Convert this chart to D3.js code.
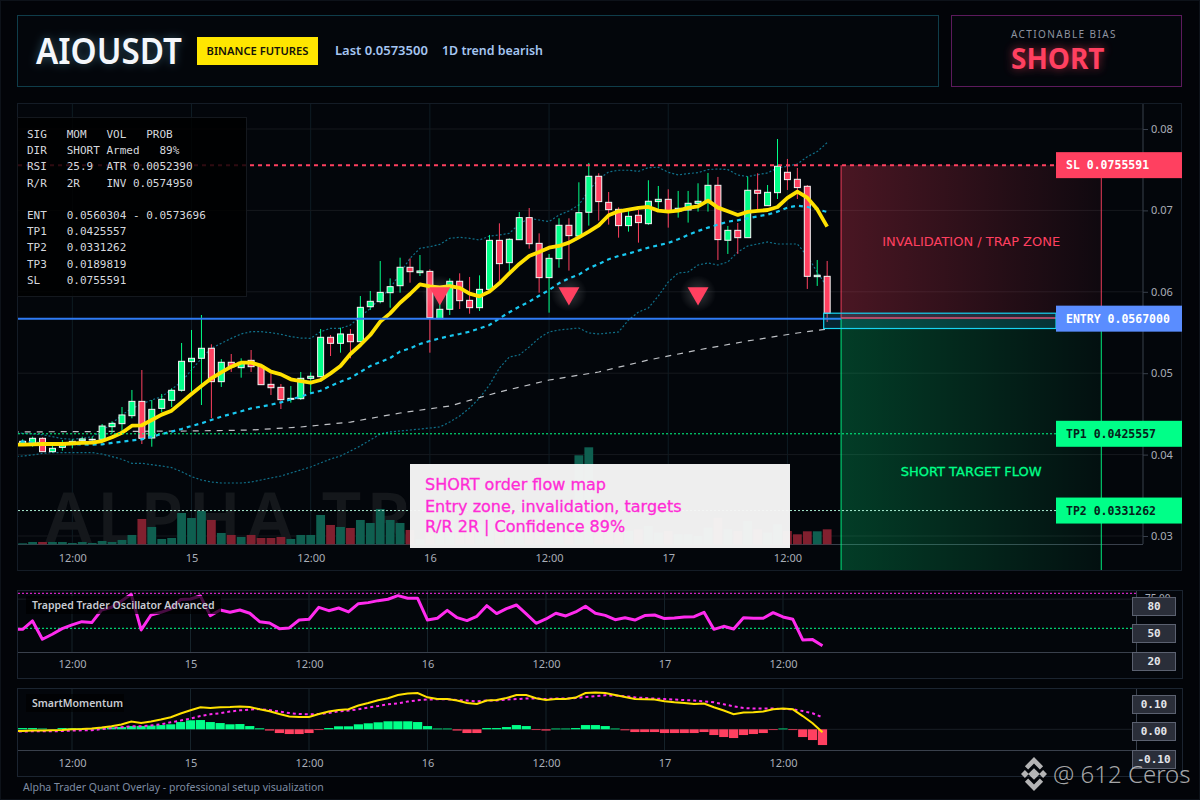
<!DOCTYPE html>
<html>
<head>
<meta charset="utf-8">
<script src="https://d3js.org/d3.v7.min.js"></script>
<style>
  html, body { margin: 0; padding: 0; background: #020408; }
  svg { display: block; }
  text { font-family: "Noto Sans", sans-serif; }
  .mono { font-family: "DejaVu Sans Mono", monospace; white-space: pre; }
  .dv { font-family: "DejaVu Sans", sans-serif; }
  .tick text { fill: #a9aeb8; font-size: 11px; font-family: "Noto Sans", sans-serif; }
</style>
</head>
<body>
<div id="chart"></div>
<script>
// candles, one per hour
var opens = [0.0413,0.04138,0.042,0.04036,0.04089,0.04122,0.04171,0.04179,0.04188,0.04343,0.0438,0.04478,0.04654,0.04204,0.04568,0.04667,0.0479,0.05142,0.05183,0.05306,0.04896,0.05134,0.05068,0.05158,0.05084,0.04863,0.04826,0.04679,0.04687,0.04937,0.04957,0.05441,0.05367,0.05477,0.05387,0.05817,0.05879,0.05989,0.06075,0.06301,0.06235,0.06251,0.0567,0.05785,0.06129,0.05895,0.05805,0.0603,0.06632,0.06358,0.0664,0.06911,0.06595,0.06174,0.06407,0.06817,0.06685,0.06977,0.07419,0.07099,0.07013,0.06813,0.0694,0.06837,0.07108,0.07136,0.06993,0.07005,0.07087,0.07108,0.07308,0.06633,0.06755,0.06665,0.07247,0.07058,0.07218,0.07468,0.07382,0.07296,0.06186,0.0619];
var closes = [0.04163,0.042,0.04036,0.04077,0.0413,0.04163,0.04192,0.04188,0.04351,0.04384,0.04487,0.04654,0.042,0.04556,0.04679,0.0479,0.05146,0.05183,0.05306,0.04896,0.05134,0.0508,0.05134,0.0508,0.04859,0.04822,0.04675,0.04691,0.04937,0.04962,0.05441,0.05367,0.05482,0.05387,0.05809,0.05883,0.05993,0.06063,0.06301,0.06247,0.06256,0.05682,0.05785,0.06129,0.05891,0.05805,0.0603,0.06632,0.06346,0.06645,0.06911,0.06591,0.06174,0.06411,0.06817,0.0669,0.06972,0.07419,0.07108,0.07009,0.06813,0.06927,0.0685,0.07112,0.07136,0.06993,0.07026,0.07087,0.07112,0.07308,0.06641,0.06755,0.06665,0.07247,0.0721,0.07222,0.07542,0.07378,0.0728,0.0619,0.06203,0.05735];
var highs = [0.04188,0.0422,0.04212,0.04118,0.04179,0.04188,0.0422,0.0422,0.04376,0.04409,0.04585,0.04794,0.05039,0.04671,0.04745,0.04814,0.05371,0.05531,0.05715,0.05355,0.05174,0.05236,0.05183,0.05285,0.05089,0.04998,0.04867,0.04843,0.05015,0.05011,0.05543,0.05469,0.05559,0.05543,0.05948,0.0601,0.06378,0.06165,0.06419,0.06411,0.06452,0.06276,0.0592,0.06165,0.06227,0.06182,0.06202,0.06698,0.06841,0.06657,0.0698,0.07029,0.06718,0.06464,0.06903,0.06903,0.07345,0.07583,0.07456,0.07226,0.07038,0.07026,0.07005,0.0737,0.073,0.07259,0.07239,0.07239,0.07333,0.0746,0.07411,0.06809,0.06845,0.07415,0.07456,0.07312,0.07877,0.07632,0.07521,0.07312,0.06391,0.06379];
var lows = [0.04106,0.04097,0.04032,0.04024,0.04048,0.04077,0.04147,0.04138,0.04171,0.04261,0.04294,0.04446,0.0413,0.04097,0.04523,0.04585,0.04773,0.04773,0.04609,0.04446,0.04831,0.05015,0.04945,0.05015,0.04855,0.04732,0.0456,0.04638,0.04671,0.04753,0.04949,0.05211,0.05252,0.05183,0.05387,0.05776,0.05858,0.05805,0.05989,0.06112,0.06194,0.05252,0.0567,0.05715,0.05789,0.05731,0.05764,0.06022,0.06124,0.06247,0.06636,0.0653,0.05989,0.05744,0.06296,0.0626,0.06685,0.06813,0.06874,0.06825,0.06665,0.06739,0.06604,0.06821,0.06985,0.06788,0.06911,0.0685,0.06985,0.06985,0.06391,0.06465,0.06465,0.06665,0.07013,0.07054,0.0714,0.07251,0.0714,0.06035,0.06072,0.05629];
var volumes = [3,7,7,7,7,4,7,4,10,7,13,28,76,52,16,19,94,79,100,73,34,28,22,28,19,19,22,16,28,28,88,58,52,49,73,64,106,73,64,43,15,110,45,70,50,40,60,110,80,70,60,70,70,65,70,60,267,291,90,50,50,40,45,55,35,40,30,30,25,50,80,45,40,70,45,35,60,40,30,39,39,45];

// overlays, these start one bar before the first candle (bar -1)
var maFast = [0.04122,0.04122,0.04126,0.0413,0.0413,0.0413,0.04138,0.04143,0.04147,0.04167,0.04212,0.04269,0.04355,0.0436,0.04425,0.04491,0.0454,0.04642,0.04745,0.04843,0.04937,0.05011,0.0508,0.05129,0.05129,0.05093,0.05019,0.04986,0.04925,0.04904,0.04884,0.04916,0.04998,0.05088,0.05236,0.05346,0.05469,0.05633,0.05735,0.05866,0.05973,0.06092,0.06067,0.06055,0.06071,0.06047,0.05977,0.05944,0.06002,0.06104,0.06227,0.06342,0.0644,0.06489,0.06542,0.06563,0.06604,0.06669,0.06739,0.06817,0.0694,0.06989,0.07009,0.0703,0.07042,0.06997,0.06985,0.06997,0.0703,0.0705,0.0712,0.07034,0.06989,0.06944,0.06981,0.06993,0.07005,0.07042,0.07153,0.0723,0.07157,0.07013,0.068];
var maSlow = [0.04163,0.04159,0.04151,0.04138,0.04134,0.04134,0.0413,0.04126,0.04122,0.04126,0.04143,0.04159,0.04175,0.04188,0.0422,0.04253,0.04282,0.04315,0.04351,0.04384,0.04425,0.04466,0.04499,0.04532,0.04568,0.04589,0.04613,0.04642,0.04679,0.04712,0.04753,0.04785,0.04843,0.04896,0.04941,0.05015,0.05088,0.05138,0.05187,0.05265,0.05305,0.05359,0.05396,0.05428,0.05457,0.05482,0.0551,0.05551,0.05592,0.05674,0.05748,0.05817,0.05879,0.05952,0.06022,0.06104,0.06165,0.06211,0.06289,0.06342,0.06399,0.0644,0.06469,0.06506,0.06542,0.06571,0.066,0.06645,0.06698,0.06747,0.06788,0.06825,0.06862,0.06878,0.06903,0.06927,0.06948,0.06985,0.07034,0.07058,0.07042,0.07013,0.06981];
var bandUpper = [0.04269,0.04261,0.04253,0.04245,0.0422,0.04196,0.04188,0.042,0.0422,0.04294,0.04384,0.04487,0.04568,0.04622,0.04671,0.04712,0.04802,0.04896,0.05039,0.05183,0.05306,0.05367,0.05428,0.05482,0.0551,0.0551,0.05498,0.05478,0.05449,0.05432,0.05428,0.0551,0.05551,0.05551,0.05592,0.05694,0.05797,0.0592,0.06043,0.06227,0.06411,0.06534,0.06554,0.06583,0.06657,0.06669,0.06657,0.06636,0.06685,0.06698,0.06718,0.06833,0.06903,0.06882,0.06862,0.06943,0.06993,0.07067,0.07243,0.07386,0.07472,0.07493,0.07493,0.0748,0.07525,0.07529,0.07468,0.07435,0.07452,0.07464,0.07501,0.07509,0.07501,0.07435,0.07415,0.07439,0.0746,0.07521,0.07542,0.0757,0.0766,0.07722,0.07832];
var bandLower = [0.03975,0.03983,0.03995,0.04016,0.04024,0.04024,0.04024,0.04024,0.04024,0.04007,0.03975,0.03942,0.03893,0.03893,0.03876,0.0386,0.0384,0.0379,0.03729,0.03688,0.03663,0.03651,0.03651,0.03651,0.03663,0.03688,0.03713,0.03737,0.03774,0.03811,0.03848,0.03897,0.03946,0.03983,0.04044,0.04106,0.04179,0.04253,0.04278,0.0429,0.04302,0.04314,0.04327,0.04339,0.044,0.04474,0.04572,0.04695,0.04855,0.05064,0.05199,0.05224,0.05322,0.05432,0.05506,0.05531,0.05543,0.05555,0.05494,0.05482,0.05494,0.05506,0.05654,0.05752,0.05801,0.05948,0.0612,0.06231,0.06243,0.06329,0.06354,0.06329,0.06366,0.06489,0.06563,0.06587,0.06612,0.06587,0.06587,0.06587,0.0644,0.06243,0.06059];
var vwapBars = [-1,17,23,28,33,38,43,48,53,58,63,68,73,78,81];
var vwapValues = [0.04278,0.0429,0.04302,0.04339,0.044,0.04511,0.04597,0.04769,0.04916,0.05015,0.05162,0.05285,0.05396,0.05494,0.05543];

// sub panes, also from bar -1
var oscillator = [49.1,49.1,56.3,40.6,44.9,49.7,52.9,55.7,54.9,65.7,68,73.4,79.1,48.6,61.4,63.7,66.6,74.6,75.1,77.7,60.9,65.7,63.7,65.7,62.9,55.7,54.6,49.7,50.3,57.1,57.7,68,65.1,67.4,64,71.1,72,73.7,74.9,78,75.7,75.7,57.1,58.6,65.4,59.1,56.6,60.3,69.4,62.6,66.9,70,62.3,54.3,58,62.9,60.6,64,68.9,62.9,61.1,57.4,59.1,57.1,60.9,61.4,58.3,58.9,59.7,60,63.7,49.1,51.7,49.4,59.1,58.6,58.6,63.4,59.7,57.7,40,40.3,35.1];
var momentum = [-0.007,-0.007,-0.005,-0.005,-0.004,-0.003,0,0.001,0.003,0.007,0.012,0.019,0.031,0.025,0.031,0.039,0.048,0.063,0.076,0.088,0.085,0.088,0.089,0.091,0.089,0.08,0.072,0.061,0.051,0.049,0.049,0.061,0.071,0.077,0.08,0.095,0.105,0.116,0.124,0.137,0.143,0.145,0.128,0.121,0.121,0.115,0.105,0.101,0.115,0.117,0.125,0.137,0.137,0.124,0.117,0.121,0.121,0.127,0.145,0.147,0.145,0.137,0.129,0.121,0.12,0.119,0.112,0.108,0.105,0.101,0.103,0.088,0.075,0.06,0.067,0.068,0.071,0.08,0.083,0.08,0.053,0.024,-0.012];
var momentumSignal = [-0.009,-0.009,-0.008,-0.008,-0.008,-0.007,-0.005,-0.004,-0.004,0.001,0.005,0.008,0.012,0.012,0.015,0.02,0.028,0.035,0.043,0.053,0.06,0.064,0.071,0.076,0.079,0.081,0.077,0.071,0.065,0.061,0.06,0.061,0.065,0.072,0.075,0.08,0.087,0.093,0.1,0.104,0.111,0.116,0.119,0.12,0.12,0.117,0.115,0.112,0.115,0.115,0.119,0.121,0.123,0.123,0.121,0.123,0.123,0.125,0.129,0.133,0.136,0.135,0.132,0.128,0.125,0.123,0.121,0.119,0.117,0.115,0.112,0.108,0.1,0.092,0.085,0.083,0.083,0.083,0.081,0.08,0.073,0.064,0.048];
var histogram = [0.005,0.005,0.005,0.003,0.001,0.005,0.004,0.004,0.003,0.004,0.008,0.009,0.013,0.013,0.015,0.017,0.02,0.029,0.036,0.037,0.029,0.025,0.02,0.021,0.013,0.004,-0.005,-0.015,-0.019,-0.019,-0.015,-0.003,0.005,0.012,0.012,0.02,0.024,0.028,0.032,0.032,0.032,0.029,0.013,0.003,0.003,-0.005,-0.015,-0.015,0.005,0.005,0.009,0.017,0.013,-0.003,-0.005,0.003,0.003,0.005,0.017,0.017,0.013,0.003,-0.004,-0.011,-0.011,-0.011,-0.015,-0.015,-0.015,-0.015,-0.011,-0.023,-0.031,-0.035,-0.023,-0.019,-0.015,-0.003,0.003,-0.003,-0.031,-0.043,-0.063];

// ticks and labels
var tickBars = [5,17,29,41,53,65,77];
var tickLabels = ["12:00","15","12:00","16","12:00","17","12:00"];
var priceTicks = [0.03,0.04,0.05,0.06,0.07,0.08];
var oscBadges = ["80","50","20"];
var momBadges = ["0.10","0.00","-0.10"];
var infoLines = [
  "SIG   MOM   VOL   PROB",
  "DIR   SHORT Armed   89%",
  "RSI   25.9  ATR 0.0052390",
  "R/R   2R    INV 0.0574950",
  "",
  "ENT   0.0560304 - 0.0573696",
  "TP1   0.0425557",
  "TP2   0.0331262",
  "TP3   0.0189819",
  "SL    0.0755591"
];
var noteLines = ["SHORT order flow map","Entry zone, invalidation, targets","R/R 2R | Confidence 89%"];

// levels
var slPrice = 0.0755591, entryPrice = 0.0567, entryHigh = 0.0573696, entryLow = 0.05549;
var tp1Price = 0.0425557, tp2Price = 0.0331262;
var signalBars = [42,55,68];
var signalPrices = [0.0598,0.0598,0.0598];
var zoneFrom = 82.4, zoneTo = 108.6, entryBoxFrom = 80.65;

var green = "#00ff88", red = "#ff4060", yellow = "#ffe100", magenta = "#ff2bee";
var bars = d3.range(opens.length);

var svg = d3.select("#chart").append("svg").attr("width", 1200).attr("height", 800);
var defs = svg.append("defs");

svg.append("rect").attr("x", 0.5).attr("y", 0.5).attr("width", 1199).attr("height", 799)
  .attr("fill", "#020408").attr("stroke", "#0d1219");

function hGradient(id, color, a0, a1) {
  var g = defs.append("linearGradient").attr("id", id);
  g.append("stop").attr("offset", 0).attr("stop-color", color).attr("stop-opacity", a0);
  g.append("stop").attr("offset", 1).attr("stop-color", color).attr("stop-opacity", a1);
}
hGradient("redZone", red, 0.28, 0.05);
hGradient("greenZone", green, 0.22, 0.04);
var halo = defs.append("radialGradient").attr("id", "halo");
halo.append("stop").attr("offset", 0).attr("stop-color", "#fff").attr("stop-opacity", 0.2);
halo.append("stop").attr("offset", 1).attr("stop-color", "#fff").attr("stop-opacity", 0);
var blur = defs.append("filter").attr("id", "glow").attr("x", "-30%").attr("y", "-60%").attr("width", "160%").attr("height", "220%");
blur.append("feGaussianBlur").attr("stdDeviation", 5);

// header
function box(x, y, w, h, stroke) {
  return svg.append("rect").attr("x", x).attr("y", y).attr("width", w).attr("height", h)
    .attr("fill", "#03060b").attr("stroke", stroke);
}
box(17.5, 15.5, 921, 71, "#0f3d4a");
box(951.5, 15.5, 230, 71, "#5c1a5c");

svg.append("text").attr("x", 36).attr("y", 63.5).attr("font-size", 36).attr("font-weight", 700)
  .attr("fill", "#6fc3e0").attr("filter", "url(#glow)").attr("opacity", 0.35)
  .attr("textLength", 146).attr("lengthAdjust", "spacingAndGlyphs").text("AIOUSDT");
svg.append("text").attr("x", 36).attr("y", 63.5).attr("font-size", 36).attr("font-weight", 600)
  .attr("fill", "#f4f7fb").attr("textLength", 146).attr("lengthAdjust", "spacingAndGlyphs").text("AIOUSDT");
svg.append("rect").attr("x", 197).attr("y", 37).attr("width", 121).attr("height", 28).attr("fill", "#ffe600");
svg.append("text").attr("x", 257.5).attr("y", 55).attr("text-anchor", "middle").attr("font-size", 11.2).attr("font-weight", 600)
  .attr("fill", "#14120a").text("BINANCE FUTURES");
svg.append("text").attr("x", 335).attr("y", 55).attr("font-size", 13).attr("font-weight", 600)
  .attr("fill", "#a5c5f2").text("Last 0.0573500");
svg.append("text").attr("x", 442).attr("y", 55).attr("font-size", 13).attr("font-weight", 600)
  .attr("fill", "#a5c5f2").attr("textLength", 101).attr("lengthAdjust", "spacingAndGlyphs").text("1D trend bearish");
svg.append("text").attr("x", 1011).attr("y", 38).attr("font-size", 10).attr("letter-spacing", 1.4)
  .attr("fill", "#8f94a0").text("ACTIONABLE BIAS");
svg.append("text").attr("x", 1011).attr("y", 69).attr("font-size", 28).attr("font-weight", 700)
  .attr("fill", red).attr("filter", "url(#glow)").attr("opacity", 0.6).text("SHORT");
svg.append("text").attr("x", 1011).attr("y", 69).attr("font-size", 28).attr("font-weight", 700)
  .attr("fill", red).text("SHORT");

// panel frames
box(17.5, 103.5, 1164, 467, "#141c26");
box(17.5, 590.5, 1165, 88, "#1b2430");
box(17.5, 688.5, 1165, 88, "#1b2430");

// scales, the same bar domain over each pane's own width
var barDomain = [-0.47, 112.8];
var x = d3.scaleLinear().domain(barDomain).range([18, 1143]);
var xSub = d3.scaleLinear().domain(barDomain).range([18, 1136.5]);
var y = d3.scaleLinear().domain([0.02898, 0.08307]).range([544.3, 104]);
var yVol = d3.scaleLinear().domain([0, 300]).range([544.3, 444.3]);
var yOsc = d3.scaleLinear().domain([50, 80]).range([628.3, 593.3]);
var yMom = d3.scaleLinear().domain([0, 0.1]).range([729.3, 704.3]);

function clip(id, x0, y0, w, h) {
  defs.append("clipPath").attr("id", id).append("rect").attr("x", x0).attr("y", y0).attr("width", w).attr("height", h);
}
clip("mainClip", 18, 104, 1125, 466);
clip("oscClip", 18, 591, 1118.5, 61);
clip("momClip", 18, 689, 1118.5, 62);
clip("oscAxisClip", 1137, 591, 45, 87);

// main pane grid and axes
var main = svg.append("g");
main.selectAll(".vgrid").data(tickBars).join("line")
  .attr("x1", x).attr("x2", x).attr("y1", 104).attr("y2", 544)
  .attr("stroke", "#0e1c24");
main.selectAll(".hgrid").data(priceTicks).join("line")
  .attr("x1", 18).attr("x2", 1143).attr("y1", y).attr("y2", y)
  .attr("stroke", "#16191e");

// watermark sits right behind the marks
main.append("text").attr("x", 45).attr("y", 543).attr("font-size", 70).attr("font-weight", 600)
  .attr("letter-spacing", 5).attr("fill", "#14171b").text("ALPHA TRADER");

var axisY = d3.axisRight(y).tickValues(priceTicks).tickSize(5).tickPadding(3).tickFormat(d3.format(".2f"));
var gy = main.append("g").attr("transform", "translate(1143,0)").call(axisY);
gy.select(".domain").remove();
gy.selectAll(".tick line").attr("stroke", "#39404c");
main.append("line").attr("x1", 1143).attr("x2", 1143).attr("y1", 104).attr("y2", 544).attr("stroke", "#39404c");

function xAxis(g, scale, yPos, pad) {
  var ax = d3.axisBottom(scale).tickValues(tickBars).tickSize(0).tickPadding(pad)
    .tickFormat(function(d, i) { return tickLabels[i]; });
  var a = g.append("g").attr("transform", "translate(0," + yPos + ")").call(ax);
  a.select(".domain").remove();
  g.append("line").attr("x1", 18).attr("x2", scale.range()[1]).attr("y1", yPos + 0.5).attr("y2", yPos + 0.5).attr("stroke", "#39404c");
}
xAxis(main, x, 544, 10);

var plot = main.append("g").attr("clip-path", "url(#mainClip)");

// volume
plot.selectAll(".vol").data(bars).join("rect")
  .attr("x", function(i) { return x(i) - 4.4; })
  .attr("width", 8.8)
  .attr("y", function(i) { return yVol(volumes[i]); })
  .attr("height", function(i) { return yVol(0) - yVol(volumes[i]); })
  .attr("fill", function(i) { return closes[i] >= opens[i] ? "#0f5f50" : "#81202f"; });

// zones
plot.append("rect").attr("x", x(zoneFrom)).attr("width", x(zoneTo) - x(zoneFrom))
  .attr("y", y(slPrice)).attr("height", y(entryPrice) - y(slPrice)).attr("fill", "url(#redZone)");
plot.append("rect").attr("x", x(zoneFrom)).attr("width", x(zoneTo) - x(zoneFrom))
  .attr("y", y(entryPrice)).attr("height", 570 - y(entryPrice)).attr("fill", "url(#greenZone)");
[zoneFrom, zoneTo].forEach(function(b) {
  plot.append("line").attr("x1", x(b)).attr("x2", x(b)).attr("y1", y(slPrice)).attr("y2", y(entryPrice)).attr("stroke", red).attr("opacity", 0.9);
  plot.append("line").attr("x1", x(b)).attr("x2", x(b)).attr("y1", y(entryPrice)).attr("y2", 570).attr("stroke", green).attr("opacity", 0.9);
});

// price lines
function priceLine(accessor, xs) {
  return d3.line().x(function(d, i) { return x(xs ? xs[i] : i - 1); }).y(function(d) { return y(d); })(accessor);
}
plot.append("path").attr("d", priceLine(bandUpper)).attr("fill", "none").attr("stroke", "#10708a").attr("stroke-width", 1.2).attr("stroke-dasharray", "2 2");
plot.append("path").attr("d", priceLine(bandLower)).attr("fill", "none").attr("stroke", "#10708a").attr("stroke-width", 1.2).attr("stroke-dasharray", "2 2");
plot.append("path").attr("d", priceLine(vwapValues, vwapBars)).attr("fill", "none").attr("stroke", "#e0e3e8").attr("stroke-opacity", 0.85).attr("stroke-width", 1.2).attr("stroke-dasharray", "6 6");

// candles
plot.selectAll(".wick").data(bars).join("line")
  .attr("x1", x).attr("x2", x)
  .attr("y1", function(i) { return y(highs[i]); })
  .attr("y2", function(i) { return y(lows[i]); })
  .attr("stroke", function(i) { return closes[i] >= opens[i] ? green : red; });
plot.selectAll(".body").data(bars).join("rect")
  .attr("x", function(i) { return x(i) - 3; })
  .attr("width", 6)
  .attr("y", function(i) { return y(Math.max(opens[i], closes[i])); })
  .attr("height", function(i) { return Math.abs(y(opens[i]) - y(closes[i])); })
  .attr("fill", function(i) { return closes[i] >= opens[i] ? green : red; })
  .attr("stroke", "#f6f6f6");

plot.append("path").attr("d", priceLine(maSlow)).attr("fill", "none").attr("stroke", "#19c8f0").attr("stroke-width", 2.2).attr("stroke-dasharray", "4 4");
plot.append("path").attr("d", priceLine(maFast)).attr("fill", "none").attr("stroke", yellow).attr("stroke-width", 3.8).attr("stroke-linejoin", "round");

// level lines
var levels = main.append("g");
function level(price, x2, color, width, dash) {
  levels.append("line").attr("x1", 18).attr("x2", x2).attr("y1", y(price)).attr("y2", y(price))
    .attr("stroke", color).attr("stroke-width", width).attr("stroke-dasharray", dash);
}
level(slPrice, 1056, red, 2, "4 4");
level(tp1Price, 1056, green, 1, "2 2");
level(tp2Price, 1056, "#a8ecd0", 1, "2 2");
level(entryPrice, x(zoneFrom), "#2f7bf5", 2, null);
levels.append("line").attr("x1", x(zoneFrom)).attr("x2", 1056).attr("y1", y(entryPrice) - 0.7).attr("y2", y(entryPrice) - 0.7)
  .attr("stroke", red).attr("stroke-width", 1.4);
levels.append("rect").attr("x", x(entryBoxFrom)).attr("width", 1056 - x(entryBoxFrom))
  .attr("y", y(entryHigh)).attr("height", y(entryLow) - y(entryHigh))
  .attr("fill", "#19c8f0").attr("fill-opacity", 0.16).attr("stroke", "#17d4f2").attr("stroke-width", 1.2);

// signal markers
var triangle = d3.symbol().type(d3.symbolTriangle).size(190);
var sig = main.selectAll(".sig").data(signalBars).join("g")
  .attr("transform", function(b, i) { return "translate(" + x(b) + "," + y(signalPrices[i]) + ")"; });
sig.append("circle").attr("r", 18).attr("fill", "url(#halo)");
sig.append("path").attr("d", triangle).attr("transform", "rotate(180)").attr("fill", red);

// zone captions
main.append("text").attr("class", "dv").attr("x", x((zoneFrom + zoneTo) / 2)).attr("y", 246).attr("text-anchor", "middle")
  .attr("font-size", 13).attr("fill", red).text("INVALIDATION / TRAP ZONE");
main.append("text").attr("class", "dv").attr("x", x((zoneFrom + zoneTo) / 2)).attr("y", 476).attr("text-anchor", "middle")
  .attr("font-size", 13).attr("fill", green).attr("stroke", green).attr("stroke-width", 0.3).text("SHORT TARGET FLOW");

// price flags on the right
function flag(price, fill, txtColor, label) {
  var yy = y(price);
  main.append("rect").attr("x", 1056).attr("y", yy - 13).attr("width", 126).attr("height", 26).attr("fill", fill);
  main.append("text").attr("class", "mono").attr("x", 1066).attr("y", yy + 4).attr("font-size", 11.5).attr("font-weight", 700)
    .attr("fill", txtColor).text(label);
}
flag(slPrice, red, "#fff", "SL 0.0755591");
flag(entryPrice, "#5a8dff", "#fff", "ENTRY 0.0567000");
flag(tp1Price, "#00ff88", "#06221a", "TP1 0.0425557");
flag(tp2Price, "#00ff88", "#06221a", "TP2 0.0331262");

// info table
main.append("rect").attr("x", 17.5).attr("y", 117.5).attr("width", 229).attr("height", 179)
  .attr("fill", "#000").attr("fill-opacity", 0.82).attr("stroke", "#14181e");
var infoY = [134,150,166,183,199,215,231,247,264,280];
main.selectAll(".info").data(infoLines).join("text").attr("class", "mono")
  .attr("x", 27).attr("y", function(d, i) { return infoY[i] + 4; })
  .attr("font-size", 11).attr("fill", "#d5d8de").text(function(d) { return d; });

// annotation card
main.append("rect").attr("x", 410).attr("y", 464).attr("width", 380).attr("height", 84).attr("fill", "#f6f6f6").attr("fill-opacity", 0.97);
var noteY = [490, 512, 532];
main.selectAll(".note").data(noteLines).join("text").attr("class", "dv")
  .attr("x", 425).attr("y", function(d, i) { return noteY[i]; })
  .attr("font-size", 16).attr("fill", "#ff2bd6").attr("stroke", "#ff2bd6").attr("stroke-width", 0.3).text(function(d) { return d; });

// oscillator pane
var oscPane = svg.append("g");
oscPane.selectAll(".vgrid").data(tickBars).join("line")
  .attr("x1", xSub).attr("x2", xSub).attr("y1", 591).attr("y2", 652).attr("stroke", "#16232b");
oscPane.append("line").attr("x1", 18).attr("x2", 1136.5).attr("y1", yOsc(75)).attr("y2", yOsc(75)).attr("stroke", "#1a1f26");
oscPane.append("line").attr("x1", 18).attr("x2", 1136.5).attr("y1", yOsc(80)).attr("y2", yOsc(80)).attr("stroke", magenta).attr("stroke-dasharray", "2 2");
oscPane.append("line").attr("x1", 18).attr("x2", 1136.5).attr("y1", yOsc(50)).attr("y2", yOsc(50)).attr("stroke", green).attr("stroke-dasharray", "2 2");
oscPane.append("g").attr("clip-path", "url(#oscClip)").append("path")
  .attr("d", d3.line().x(function(d, i) { return xSub(i - 1); }).y(yOsc)(oscillator))
  .attr("fill", "none").attr("stroke", magenta).attr("stroke-width", 3).attr("stroke-linejoin", "round");
xAxis(oscPane, xSub, 652, 8);
oscPane.append("line").attr("x1", 1136.5).attr("x2", 1136.5).attr("y1", 591).attr("y2", 652).attr("stroke", "#39404c");
oscPane.append("g").attr("clip-path", "url(#oscAxisClip)").append("text").attr("class", "tickish")
  .attr("x", 1145).attr("y", yOsc(75) + 3).attr("font-size", 10).attr("fill", "#a9aeb8").text("75.00");
oscPane.append("rect").attr("x", 26).attr("y", 596).attr("width", 195).attr("height", 18).attr("fill", "#000").attr("fill-opacity", 0.72);
oscPane.append("text").attr("x", 32).attr("y", 609).attr("font-size", 10.5).attr("font-weight", 600).attr("fill", "#c8cbd2")
  .text("Trapped Trader Oscillator Advanced");

// momentum pane
var momPane = svg.append("g");
momPane.selectAll(".vgrid").data(tickBars).join("line")
  .attr("x1", xSub).attr("x2", xSub).attr("y1", 689).attr("y2", 751).attr("stroke", "#16232b");
momPane.append("line").attr("x1", 18).attr("x2", 1136.5).attr("y1", yMom(0)).attr("y2", yMom(0)).attr("stroke", "#1a1f26");
var momPlot = momPane.append("g").attr("clip-path", "url(#momClip)");
momPlot.selectAll(".hist").data(histogram).join("rect")
  .attr("x", function(d, i) { return xSub(i - 1) - 4.6; })
  .attr("width", 9.2)
  .attr("y", function(d) { return Math.min(yMom(d), yMom(0)); })
  .attr("height", function(d) { return Math.abs(yMom(d) - yMom(0)); })
  .attr("fill", function(d) { return d >= 0 ? green : red; });
var momLine = d3.line().x(function(d, i) { return xSub(i - 1); }).y(yMom);
momPlot.append("path").attr("d", momLine(momentumSignal)).attr("fill", "none").attr("stroke", magenta).attr("stroke-width", 2).attr("stroke-dasharray", "3 3");
momPlot.append("path").attr("d", momLine(momentum)).attr("fill", "none").attr("stroke", yellow).attr("stroke-width", 2);
xAxis(momPane, xSub, 750, 9);
momPane.append("line").attr("x1", 1136.5).attr("x2", 1136.5).attr("y1", 689).attr("y2", 750).attr("stroke", "#39404c");
momPane.append("rect").attr("x", 26).attr("y", 694).attr("width", 98).attr("height", 18).attr("fill", "#000").attr("fill-opacity", 0.6);
momPane.append("text").attr("x", 32).attr("y", 707).attr("font-size", 10.5).attr("font-weight", 600).attr("fill", "#c8cbd2").text("SmartMomentum");

// value badges on the sub panes
function badge(label, top) {
  svg.append("rect").attr("x", 1132.5).attr("y", top + 0.5).attr("width", 43).attr("height", 18)
    .attr("fill", "#2a2e39").attr("stroke", "#5b6170");
  svg.append("text").attr("class", "mono").attr("x", 1154).attr("y", top + 13).attr("text-anchor", "middle")
    .attr("font-size", 11).attr("font-weight", 700).attr("fill", "#e4e6ea").text(label);
}
var oscBadgeTop = [597, 624, 652], momBadgeTop = [695, 722, 750];
oscBadges.forEach(function(b, i) { badge(b, oscBadgeTop[i]); });
momBadges.forEach(function(b, i) { badge(b, momBadgeTop[i]); });

// footer and overlaid credit
svg.append("text").attr("x", 23).attr("y", 791).attr("font-size", 10.5).attr("fill", "#7f8ca3")
  .text("Alpha Trader Quant Overlay - professional setup visualization");

var logo = svg.append("g").attr("transform", "translate(1034,774) scale(1.3)").attr("fill", "#d4d4d4").attr("fill-opacity", 0.85);
logo.append("path").attr("d", "M0,-4.5L4.5,0L0,4.5L-4.5,0Z");
logo.append("path").attr("d", "M-10,0L-7,-3L-4,0L-7,3Z");
logo.append("path").attr("d", "M10,0L7,-3L4,0L7,3Z");
logo.append("path").attr("d", "M0,-13L7,-6L4.5,-3.5L0,-8L-4.5,-3.5L-7,-6Z");
logo.append("path").attr("d", "M0,13L7,6L4.5,3.5L0,8L-4.5,3.5L-7,6Z");
svg.append("text").attr("x", 1053).attr("y", 783).attr("font-size", 24).attr("fill", "#d4d4d4").attr("fill-opacity", 0.78)
  .attr("font-weight", 300).text("@ 612 Ceros");
</script>
</body>
</html>
